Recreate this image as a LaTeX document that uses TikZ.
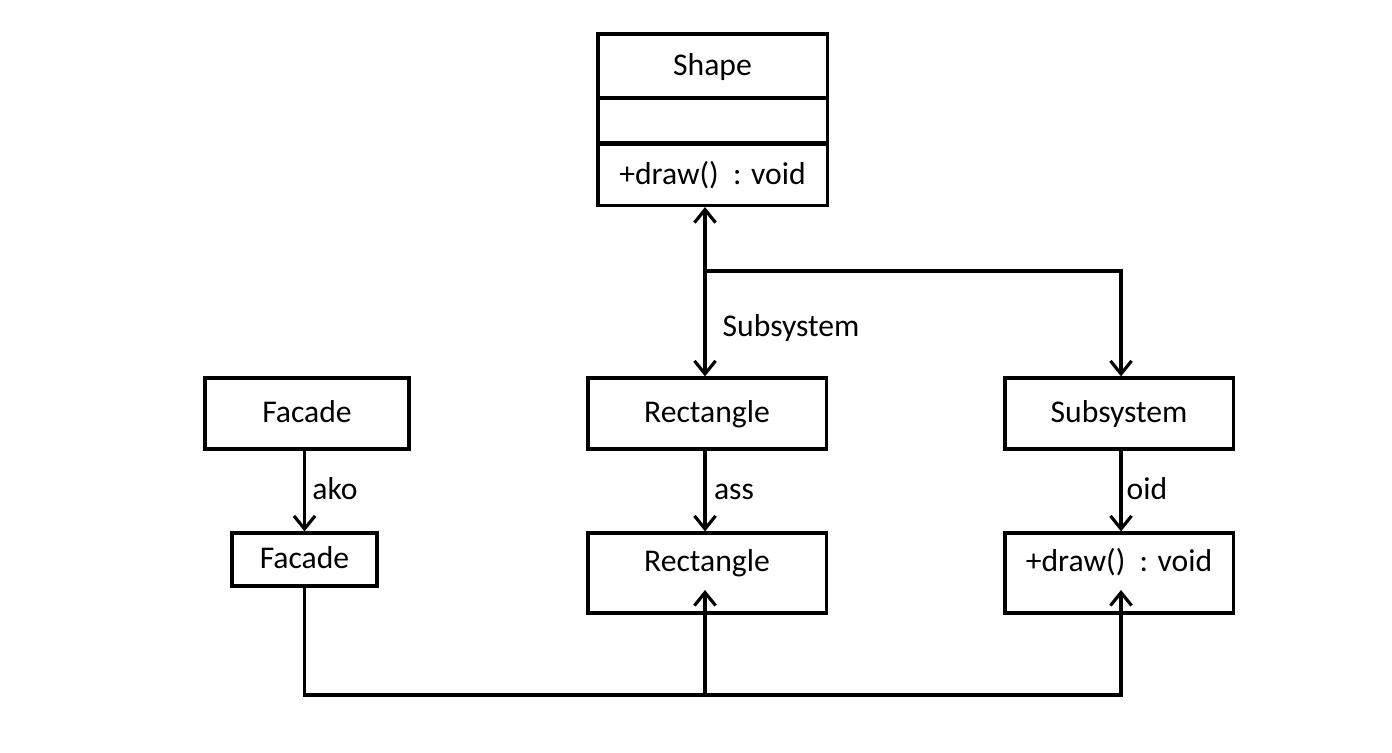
\documentclass[tikz,border=0pt]{standalone}
\usepackage{fontspec}
\setmainfont{Carlito}
\usetikzlibrary{arrows.meta}
\begin{document}
\begin{tikzpicture}[x=0.01cm,y=-0.01cm,
  font=\fontsize{9pt}{10pt}\selectfont,
  box/.style={draw,line width=0.9pt,inner sep=0pt,text height=1.55ex,text depth=0.45ex},
  txt/.style={inner sep=1pt,text height=1.55ex,text depth=0.45ex},
  conn/.style={line width=0.9pt},
  arr/.style={conn,-{Straight Barb[length=3.7pt,width=6pt,line width=0.9pt]}},
  dbl/.style={conn,{Straight Barb[length=3.7pt,width=6pt,line width=0.9pt]}-{Straight Barb[length=3.7pt,width=6pt,line width=0.9pt]}}]
\useasboundingbox[fill=white] (0,0) rectangle (1392,752);
% Shape class
\node[box,minimum width=2.29cm,minimum height=0.64cm] (shT) at (712.5,66) {Shape};
\node[box,minimum width=2.29cm,minimum height=0.45cm] (shA) at (712.5,120.5) {};
\node[box,minimum width=2.29cm,minimum height=0.61cm] (shO) at (712.5,175) {+draw()\ \ : void};
% first row
\node[box,minimum width=2.04cm,minimum height=0.71cm] (fac1) at (307,413.5) {Facade};
\node[box,minimum width=2.38cm,minimum height=0.71cm] (rec1) at (707,413.5) {Rectangle};
\node[box,minimum width=2.28cm,minimum height=0.71cm] (sub1) at (1119,413.5) {Subsystem};
% second row
\node[box,minimum width=1.45cm,minimum height=0.53cm] (fac2) at (304.5,559.5) {Facade};
\node[box,minimum width=2.38cm,minimum height=0.80cm] (rec2) at (707,573) {};
\node[txt] (rec2t) at (707,562) {Rectangle};
\node[box,minimum width=2.28cm,minimum height=0.80cm] (op2) at (1119,573) {};
\node[txt] (op2t) at (1119,562) {+draw()\ \ : void};
% connectors
\coordinate (j1) at (705,271);
\coordinate (j2) at (1121,271);
\coordinate (b1) at (705,695);
\coordinate (b2) at (1121,695);
\coordinate (t1) at (705,590);
\coordinate (t2) at (1121,590);
\draw[dbl] (shO.south -| j1) -- (rec1.north -| j1);
\draw[arr] (j1) -- (j2) -- (sub1.north -| j2);
\draw[arr] (fac1.south -| fac2.north) -- (fac2.north);
\draw[arr] (rec1.south -| j1) -- (rec2.north -| j1);
\draw[arr] (sub1.south -| j2) -- (op2.north -| j2);
\draw[arr] (fac2.south) |- (b2) -- (t2);
\draw[arr] (b1) -- (t1);
% labels
\node[txt] (lSub) at (791,327) {Subsystem};
\node[txt] (lako) at (335,490) {ako};
\node[txt] (lass) at (734,490) {ass};
\node[txt] (loid) at (1147,490) {oid};
\end{tikzpicture}
\end{document}
